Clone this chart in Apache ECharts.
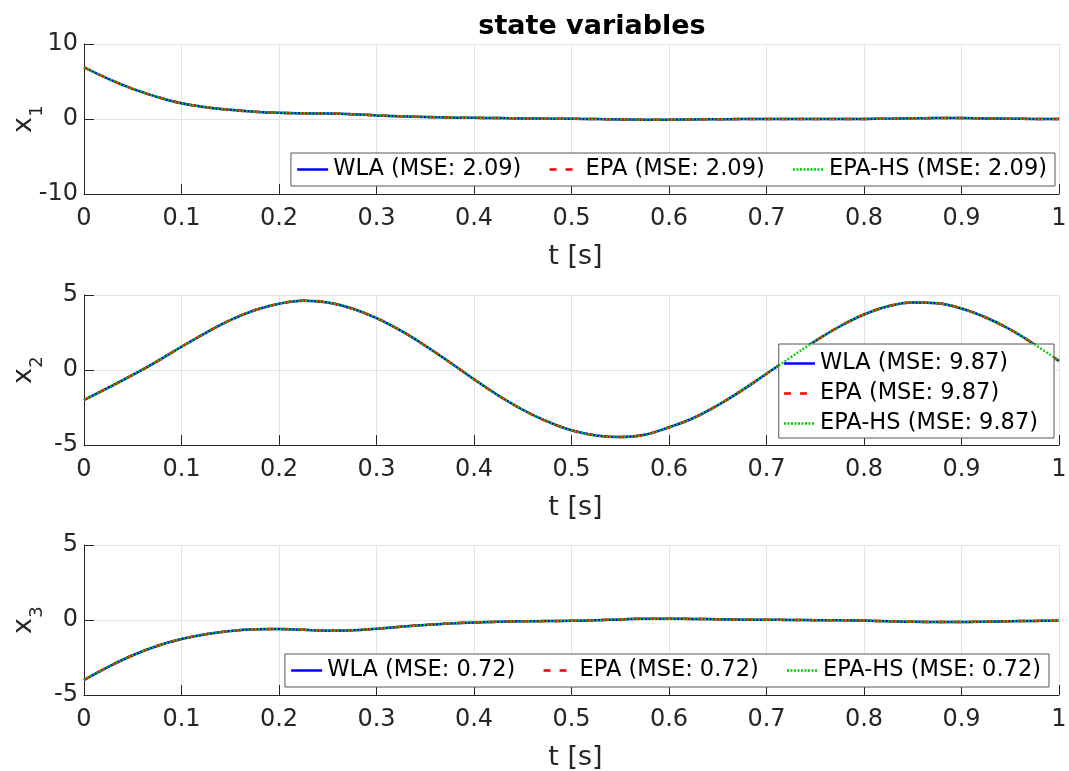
<!DOCTYPE html>
<html>
<head>
<meta charset="utf-8">
<script src="https://cdn.jsdelivr.net/npm/echarts@6/dist/echarts.min.js"></script>
<style>html,body{margin:0;padding:0;background:#fff;}#c{width:1069px;height:771px;}</style>
</head>
<body>
<div id="c"></div>
<script>
// ---- data ----
const tValues = [0,0.025,0.05,0.075,0.1,0.125,0.15,0.175,0.2,0.225,0.25,0.275,0.3,0.325,0.35,0.375,0.4,0.425,0.45,0.475,0.5,0.525,0.55,0.575,0.6,0.625,0.65,0.675,0.7,0.725,0.75,0.775,0.8,0.825,0.85,0.875,0.9,0.925,0.95,0.975,1.0];
const x1Values = [6.9,5.35,4.02,2.95,2.1,1.58,1.22,0.97,0.82,0.76,0.73,0.64,0.48,0.36,0.28,0.21,0.16,0.12,0.08,0.05,0.03,-0.01,-0.06,-0.09,-0.09,-0.06,-0.03,-0.01,0.0,0.0,0.0,0.0,0.01,0.05,0.1,0.12,0.12,0.08,0.04,0.01,0.0];
const x2Values = [-2.0,-1.18,-0.33,0.58,1.55,2.48,3.32,3.98,4.42,4.62,4.5,4.1,3.46,2.62,1.62,0.52,-0.62,-1.7,-2.65,-3.43,-4.02,-4.36,-4.47,-4.32,-3.82,-3.2,-2.35,-1.35,-0.25,0.85,1.93,2.9,3.7,4.25,4.5,4.45,4.1,3.5,2.7,1.7,0.6];
const x3Values = [-4.0,-3.12,-2.35,-1.73,-1.27,-0.95,-0.74,-0.62,-0.6,-0.65,-0.71,-0.69,-0.58,-0.45,-0.33,-0.23,-0.16,-0.12,-0.09,-0.07,-0.05,-0.02,0.04,0.09,0.09,0.07,0.05,0.03,0.02,0.0,-0.01,-0.02,-0.04,-0.08,-0.12,-0.13,-0.13,-0.11,-0.08,-0.06,-0.05];
const methods = ['WLA','EPA','EPA-HS'];
const mseValues = ['2.09','9.87','0.72'];
const yBase = 'x';
const yLabels = ['1','2','3'];
const yRanges = [[-10,10,10],[-5,5,5],[-5,5,5]];
const titleText = 'state variables';
const xLabel = 't [s]';

// ---- styles ----
const FONT = 'DejaVu Sans';
const TXT = '#262626';
const colors = ['#0000ff','#ff0000','#00cc00'];
const dashes = ['solid',[7,9],[1.8,1.8]];
const legendDashes = ['solid',[7,9],[2,1.5]];
const widths = [2.5,2.5,2.5];
const gridTops = [44,295,545];
const gridH = 150;
const legendPos = [
  {right:14, top:153, orient:'horizontal'},
  {right:15, top:344, orient:'vertical'},
  {right:20, top:654, orient:'horizontal'}
];
const stateData = [x1Values,x2Values,x3Values];

const grids = [], xAxes = [], yAxes = [], series = [], legends = [], graphics = [];
for (let p = 0; p < 3; p++) {
  grids.push({left:84, top:gridTops[p], width:975, height:gridH, containLabel:false, outerBoundsMode:'none'});
  xAxes.push({
    type:'value', gridIndex:p, min:0, max:1, interval:0.1,
    name:xLabel, nameLocation:'middle', nameGap:49,
    nameTextStyle:{fontFamily:FONT, fontSize:27, color:TXT, padding:[0,0,0,8]},
    axisLine:{show:true, onZero:false, lineStyle:{color:TXT, width:1}},
    axisTick:{show:true, inside:true, length:10, lineStyle:{color:TXT}},
    axisLabel:{fontFamily:FONT, fontSize:24, color:TXT, margin:13},
    splitLine:{show:true, lineStyle:{color:'#e3e3e3', width:1}}
  });
  yAxes.push({
    type:'value', gridIndex:p, min:yRanges[p][0], max:yRanges[p][1], interval:yRanges[p][2],
    axisLine:{show:true, lineStyle:{color:TXT, width:1}},
    axisTick:{show:true, inside:true, length:10, lineStyle:{color:TXT}},
    axisLabel:{fontFamily:FONT, fontSize:24, color:TXT, margin:6},
    splitLine:{show:true, lineStyle:{color:'#e3e3e3', width:1}}
  });
  // y axis label with subscript (rotated real text)
  const cy = gridTops[p] + gridH/2;
  graphics.push({type:'text', x:24, y:cy+6, rotation:Math.PI/2,
    style:{text:yBase, fontFamily:FONT, fontSize:27, fill:TXT, textAlign:'center', textVerticalAlign:'middle'}});
  graphics.push({type:'text', x:37.5, y:cy-8, rotation:Math.PI/2,
    style:{text:yLabels[p], fontFamily:FONT, fontSize:18, fill:TXT, textAlign:'center', textVerticalAlign:'middle'}});
  const items = [];
  for (let m = 0; m < 3; m++) {
    const nm = methods[m] + ' (MSE: ' + mseValues[p] + ')';
    items.push({name:nm, icon:'line',
      itemStyle:{color:colors[m], borderColor:colors[m], borderWidth:2.5, borderType:legendDashes[m]},
      lineStyle:{color:colors[m], type:legendDashes[m], width:2.5}});
    series.push({
      type:'line', name:nm, xAxisIndex:p, yAxisIndex:p,
      data:tValues.map((t,i)=>[t, stateData[p][i]]),
      showSymbol:false, symbol:'none', smooth:0.4,
      lineStyle:{color:colors[m], type:dashes[m], width:widths[m]},
      itemStyle:{color:colors[m]},
      z:2+m, animation:false
    });
  }
  const lp = legendPos[p];
  legends.push({
    data:items, orient:lp.orient, right:lp.right, top:lp.top,
    backgroundColor:'#ffffff', borderColor:'#555555', borderWidth:1,
    padding: lp.orient==='vertical' ? [8,16,3,4] : [5,8,5,5],
    itemGap: lp.orient==='vertical' ? 7 : 27,
    itemWidth:31, itemHeight:14, selectedMode:false,
    textStyle:{fontFamily:FONT, fontSize:22.5, color:'#000'}
  });
}

const chart = echarts.init(document.getElementById('c'), null, {renderer:'canvas'});
chart.setOption({
  animation:false,
  backgroundColor:'#ffffff',
  title:{text:titleText, left:587, top:8, textAlign:'center',
    textStyle:{fontFamily:FONT, fontSize:27, fontWeight:'bold', color:'#000'}},
  grid:grids, xAxis:xAxes, yAxis:yAxes, legend:legends, series:series,
  graphic:graphics
});
</script>
</body>
</html>
